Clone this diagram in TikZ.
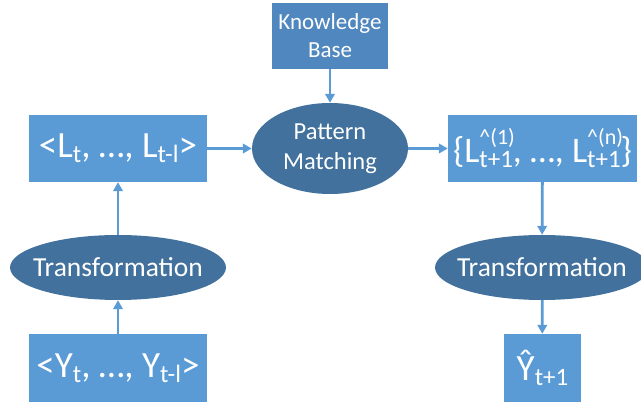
\documentclass[tikz,border=0pt]{standalone}
\usepackage{fontspec}
\setmainfont{Carlito}
\usetikzlibrary{shapes.geometric,arrows.meta}
\definecolor{boxblue}{HTML}{5B9BD5}
\definecolor{kbblue}{HTML}{4F87BE}
\definecolor{ovalblue}{HTML}{41719C}
\tikzset{
  databox/.style={draw=none,fill=boxblue,text=white,inner sep=0pt,minimum height=67pt,font=\fontsize{37}{44}\selectfont},
  oval/.style={ellipse,draw=none,fill=ovalblue,text=white,inner sep=0pt,minimum height=65pt},
  flow/.style={draw=boxblue,line width=2.8pt,-{Triangle[width=9.5pt,length=9pt]}}
}
% scripts for the box texts
\newcommand{\lo}[1]{\raisebox{-5pt}{\fontsize{25}{25}\selectfont #1}}
\newcommand{\hilo}[2]{\makebox[0pt][l]{\raisebox{18pt}{\fontsize{22}{22}\selectfont #1}}\lo{#2}}
\begin{document}
\begin{tikzpicture}[x=1pt,y=-1pt]
\useasboundingbox (0,0) rectangle (641,403);
% top
\node[fill=kbblue,text=white,inner sep=0pt,minimum width=116pt,minimum height=66pt,align=center,font=\fontsize{23}{28}\selectfont] (kb) at (330,36) {Knowledge\\Base};
\node[oval,minimum width=156pt,minimum height=91pt,align=center,font=\fontsize{24.5}{30}\selectfont] (pm) at (330,148.5) {\makebox[0pt]{Pattern}\\\makebox[0pt]{Matching}};
% left column
\node[databox,minimum width=178pt] (lseq) at (118,148.5) {<L\lo{t}, …, L\lo{t-l}>};
\node[oval,minimum width=216pt,font=\fontsize{27.5}{33}\selectfont] (ltrans) at (118,267.5) {\makebox[0pt]{Transformation}};
\node[databox,minimum width=178pt,minimum height=68pt] (yseq) at (118,368) {<Y\lo{t}, …, Y\lo{t-l}>};
% right column
\node[databox,minimum width=189pt,font=\fontsize{36}{43}\selectfont] (lset) at (542.5,148.5) {\{L\hilo{\textasciicircum(1)}{t+1}, …, L\hilo{\textasciicircum(n)}{t+1}\}};
\node[oval,minimum width=214pt,font=\fontsize{27.5}{33}\selectfont] (rtrans) at (542,267.5) {\makebox[0pt]{Transformation}};
\node[databox,minimum width=77pt,minimum height=68pt] (yhat) at (542.5,368) {Ŷ\lo{t+1}};
% arrows
\draw[flow] (kb) -- (pm);
\draw[flow] (lseq) -- (pm);
\draw[flow] (pm) -- (lset);
\draw[flow] (yseq) -- (ltrans);
\draw[flow] (ltrans) -- (lseq);
\draw[flow] (lset) -- (rtrans);
\draw[flow] (rtrans) -- (yhat);
\end{tikzpicture}
\end{document}
